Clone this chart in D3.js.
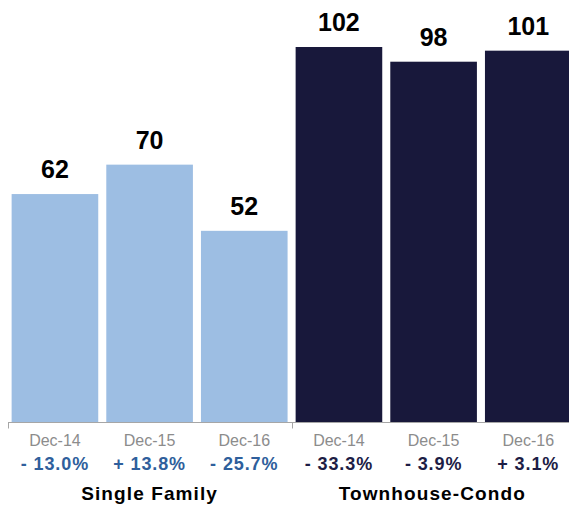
<!DOCTYPE html>
<html>
<head>
<meta charset="utf-8">
<script src="https://cdn.jsdelivr.net/npm/d3@7"></script>
<style>
  html, body { margin: 0; padding: 0; background: #fff; }
  svg { display: block; font-family: "Liberation Sans", Arial, Helvetica, sans-serif; }
</style>
</head>
<body>
<svg id="chart" width="569" height="509"></svg>
<script>
const groups = ["Single Family", "Townhouse-Condo"];
const periods = ["Dec-14", "Dec-15", "Dec-16"];
const singleFamily = [62, 70, 52];
const townhouseCondo = [102, 98, 101];
const singleFamilyChange = ["- 13.0%", "+ 13.8%", "- 25.7%"];
const townhouseCondoChange = ["- 33.3%", "- 3.9%", "+ 3.1%"];

const seriesValues = [singleFamily, townhouseCondo];
const seriesChanges = [singleFamilyChange, townhouseCondoChange];
const barColors = ["#9dbee3", "#18183b"];
const changeColors = ["#2f5f9c", "#1d1d45"];

const rows = [];
groups.forEach((g, gi) => periods.forEach((p, pi) => rows.push({
  key: g + "|" + p, group: gi, period: p,
  value: seriesValues[gi][pi], change: seriesChanges[gi][pi]
})));

const svg = d3.select("#chart");
const x = d3.scaleBand()
  .domain(rows.map(d => d.key))
  .range([7.6, 575.6])
  .paddingInner(0.085)
  .paddingOuter(0.0425);
const y = d3.scaleLinear().domain([0, 102]).range([422, 47]);

// bars
svg.append("g").selectAll("rect").data(rows).join("rect")
  .attr("x", d => x(d.key))
  .attr("y", d => y(d.value))
  .attr("width", x.bandwidth())
  .attr("height", d => y(0) - y(d.value))
  .attr("fill", d => barColors[d.group]);

// value labels
svg.append("g").selectAll("text").data(rows).join("text")
  .attr("x", d => x(d.key) + x.bandwidth() / 2)
  .attr("y", d => y(d.value) - 16)
  .attr("text-anchor", "middle")
  .attr("font-size", 25)
  .attr("font-weight", "bold")
  .attr("fill", "#000")
  .text(d => d.value);

// axis line and group ticks
const axisY = y(0) + 0.5;
svg.append("line")
  .attr("x1", 8).attr("x2", 569)
  .attr("y1", axisY).attr("y2", axisY)
  .attr("stroke", "#a6a6a6").attr("stroke-width", 1);
const step = x.step();
const groupEdges = groups.map((g, gi) => x.range()[0] + gi * periods.length * step);
svg.append("g").selectAll("line").data(groupEdges).join("line")
  .attr("x1", d => Math.round(d) + 0.5).attr("x2", d => Math.round(d) + 0.5)
  .attr("y1", axisY).attr("y2", axisY + 6)
  .attr("stroke", "#a6a6a6").attr("stroke-width", 1);

// period labels
svg.append("g").selectAll("text").data(rows).join("text")
  .attr("x", d => x(d.key) + x.bandwidth() / 2)
  .attr("y", 446)
  .attr("text-anchor", "middle")
  .attr("font-size", 16)
  .attr("fill", "#8c8c8c")
  .text(d => d.period);

// change labels
svg.append("g").selectAll("text").data(rows).join("text")
  .attr("x", d => x(d.key) + x.bandwidth() / 2)
  .attr("y", 470)
  .attr("text-anchor", "middle")
  .attr("font-size", 18)
  .attr("font-weight", "bold")
  .attr("letter-spacing", 0.9)
  .attr("fill", d => changeColors[d.group])
  .text(d => d.change);

// group labels
svg.append("g").selectAll("text").data(groups).join("text")
  .attr("x", (g, gi) => {
    const first = x(g + "|" + periods[0]);
    const last = Math.min(x(g + "|" + periods[periods.length - 1]) + x.bandwidth(), 569);
    return (first + last) / 2;
  })
  .attr("y", 500)
  .attr("text-anchor", "middle")
  .attr("font-size", 19)
  .attr("font-weight", "bold")
  .attr("letter-spacing", 1.1)
  .attr("fill", "#000")
  .text(d => d);
</script>
</body>
</html>
